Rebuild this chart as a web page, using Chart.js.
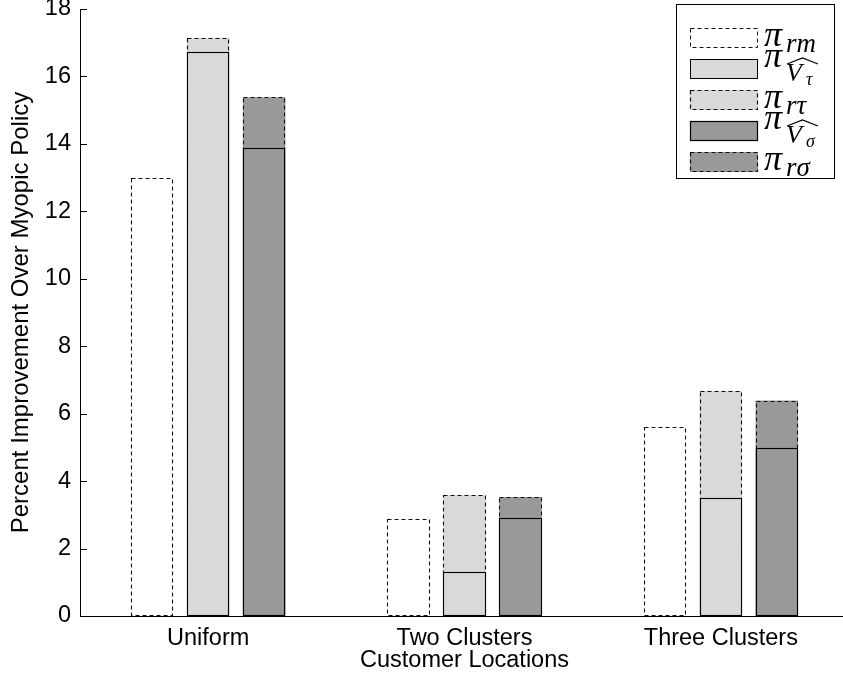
<!DOCTYPE html>
<html>
<head>
<meta charset="utf-8">
<script src="https://cdn.jsdelivr.net/npm/chart.js@4.4.1/dist/chart.umd.min.js"></script>
<style>
  html, body { margin: 0; padding: 0; background: #fff; overflow: hidden; width: 843px; height: 681px; }
  #wrap { position: relative; width: 843px; height: 681px; overflow: hidden; }
  #c { position: absolute; left: 0; top: -20px; }
</style>
</head>
<body>
<div id="wrap"><canvas id="c" width="850" height="701"></canvas></div>
<script>
// Percent improvement over the myopic policy, by customer location layout
const categories = ['Uniform', 'Two Clusters', 'Three Clusters'];
const piRM     = [13.00, 2.89, 5.61];
const piVTau   = [16.73, 1.31, 3.51];
const piRTau   = [17.15, 3.58, 6.68];
const piVSigma = [13.87, 2.92, 4.97];
const piRSigma = [15.38, 3.53, 6.39];
const yTicks   = [0, 2, 4, 6, 8, 10, 12, 14, 16, 18];

// legend label pieces: π with a plain subscript, or π with a hatted V and its own subscript
const seriesNames = ['π_rm', 'π_V̂τ', 'π_rτ', 'π_V̂σ', 'π_rσ'];
const legendSubs  = [
  { sub: 'rm' },
  { hat: 'V', subsub: 'τ' },
  { sub: 'rτ' },
  { hat: 'V', subsub: 'σ' },
  { sub: 'rσ' }
];

const TOP_SHIFT = 20;          // canvas is shifted up inside the wrapper
const FONT = '"Liberation Sans", Arial, Helvetica, sans-serif';
const MATH = '"Liberation Serif", "DejaVu Serif", serif';
const LIGHT = '#d9d9d9';
const DARK = '#999999';
const DASH = [4, 3];

function series(i, data, stack, fill, dashed) {
  return {
    label: seriesNames[i],
    data: data,
    stack: stack,
    backgroundColor: fill,
    borderWidth: 0,
    outlineColor: dashed ? '#111' : '#000',
    outlineDash: dashed ? DASH : [],
    categoryPercentage: 0.655,
    barPercentage: 0.76
  };
}

// outlines (solid or dashed) drawn right after each dataset so layering is kept
const barOutline = {
  id: 'barOutline',
  afterDatasetDraw(chart, args) {
    const ds = chart.data.datasets[args.index];
    const ctx = chart.ctx;
    ctx.save();
    ctx.lineWidth = 1.1;
    ctx.strokeStyle = ds.outlineColor;
    ctx.setLineDash(ds.outlineDash);
    args.meta.data.forEach(bar => {
      const p = bar.getProps(['x', 'y', 'base', 'width'], true);
      const l = Math.round(p.x - p.width / 2) + 0.5;
      const r = Math.round(p.x + p.width / 2) - 0.5;
      const t = Math.round(p.y) + 0.5;
      const b = Math.round(p.base) - 0.5;
      ctx.strokeRect(l, t, r - l, b - t);
    });
    ctx.restore();
  }
};

// tick marks pointing into the plot on the value axis
const innerTicks = {
  id: 'innerTicks',
  afterDatasetsDraw(chart) {
    const y = chart.scales.y;
    const ctx = chart.ctx;
    const left = chart.chartArea.left;
    ctx.save();
    ctx.strokeStyle = '#000';
    ctx.lineWidth = 1;
    y.ticks.forEach(t => {
      const py = Math.round(y.getPixelForValue(t.value)) + 0.5;
      ctx.beginPath();
      ctx.moveTo(left, py);
      ctx.lineTo(left + 7, py);
      ctx.stroke();
    });
    ctx.restore();
  }
};

// boxed legend with math-style labels
const mathLegend = {
  id: 'mathLegend',
  afterDraw(chart) {
    const ctx = chart.ctx;
    const bx = 676.5, by = 4.5 + TOP_SHIFT, bw = 158, bh = 174;
    ctx.save();
    ctx.fillStyle = '#fff';
    ctx.fillRect(bx, by, bw, bh);
    ctx.strokeStyle = '#000';
    ctx.lineWidth = 1;
    ctx.strokeRect(bx, by, bw, bh);
    legendSubs.forEach((it, i) => {
      const ds = chart.data.datasets[i];
      const cy = Math.round(by + 33 + i * 31.2);
      const sy = cy - 10;
      ctx.fillStyle = ds.backgroundColor;
      ctx.fillRect(690, sy, 68, 20);
      ctx.setLineDash(ds.outlineDash);
      ctx.strokeStyle = ds.outlineColor;
      ctx.strokeRect(690.5, sy + 0.5, 67, 19);
      ctx.setLineDash([]);
      ctx.fillStyle = '#000';
      ctx.textAlign = 'left';
      ctx.textBaseline = 'alphabetic';
      if (it.sub) {
        ctx.font = 'italic 36px ' + MATH;
        ctx.fillText('π', 764, cy + 8);
        ctx.font = 'italic 27px ' + MATH;
        ctx.fillText(it.sub, 786, cy + 14);
      } else {
        ctx.font = 'italic 36px ' + MATH;
        ctx.fillText('π', 764, cy - 2);
        ctx.font = 'italic 26px ' + MATH;
        ctx.fillText(it.hat, 786, cy + 12);
        ctx.font = 'italic 18px ' + MATH;
        ctx.fillText(it.subsub, 806, cy + 16);
        ctx.strokeStyle = '#000';
        ctx.lineWidth = 1.2;
        ctx.beginPath();
        ctx.moveTo(787, cy - 5);
        ctx.lineTo(802.5, cy - 11);
        ctx.lineTo(818, cy - 5);
        ctx.stroke();
      }
    });
    ctx.restore();
  }
};

new Chart(document.getElementById('c'), {
  type: 'bar',
  data: {
    labels: categories,
    datasets: [
      series(0, piRM, 'm', '#ffffff', true),
      series(1, piVTau, 't', LIGHT, false),
      series(2, piRTau, 't', LIGHT, true),
      series(3, piVSigma, 's', DARK, false),
      series(4, piRSigma, 's', DARK, true)
    ]
  },
  options: {
    responsive: false,
    animation: false,
    devicePixelRatio: 1,
    layout: { padding: { top: 9 + TOP_SHIFT, right: 1, left: 0, bottom: 0 } },
    plugins: { legend: { display: false }, tooltip: { enabled: false } },
    scales: {
      x: {
        grid: { display: false, drawTicks: false },
        border: { display: true, color: '#000', width: 1 },
        ticks: { color: '#000', padding: 8, font: { family: FONT, size: 23.5 } },
        title: {
          display: true, text: 'Customer Locations', color: '#000',
          font: { family: FONT, size: 23.5 }, padding: { top: 0, bottom: 6 }
        },
        afterFit(s) { s.height = 65; }
      },
      y: {
        stacked: false,
        min: 0, max: 18,
        grid: { display: false, drawTicks: false },
        border: { display: true, color: '#000', width: 1 },
        afterBuildTicks(s) { s.ticks = yTicks.map(v => ({ value: v })); },
        ticks: { color: '#000', padding: 9, font: { family: FONT, size: 23.5 } },
        title: {
          display: true, text: 'Percent Improvement Over Myopic Policy', color: '#000',
          font: { family: FONT, size: 24 }, padding: { top: 7, bottom: 0 }
        },
        afterFit(s) { s.width = 80; }
      }
    }
  },
  plugins: [barOutline, innerTicks, mathLegend]
});
</script>
</body>
</html>
